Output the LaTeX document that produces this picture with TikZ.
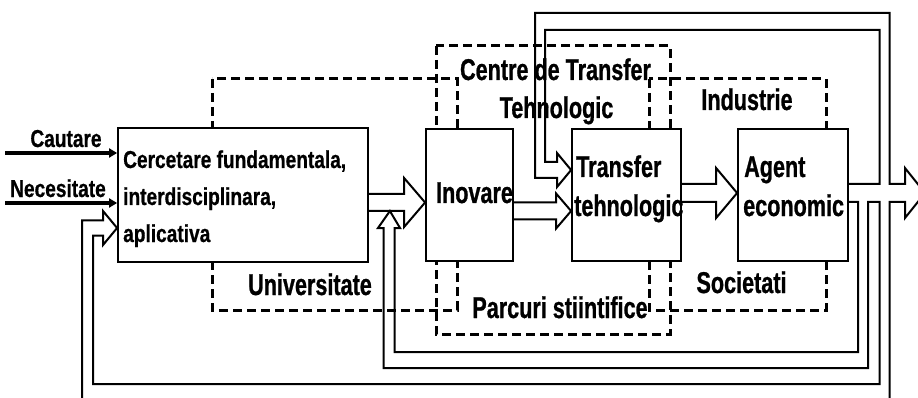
\documentclass[tikz,border=0pt]{standalone}
\usepackage{fontspec}
\setmainfont{Liberation Sans}
\newfontfamily\bigf{Liberation Sans}[FakeStretch=0.72, BoldFeatures={FakeBold=0.8}]
\newfontfamily\smf{Liberation Sans}[FakeStretch=0.78, BoldFeatures={FakeBold=0.6}]
\usetikzlibrary{calc,arrows.meta}
\tikzset{
  bigtxt/.style={font=\bigf\bfseries\fontsize{30}{31}\selectfont, inner sep=0pt},
  smtxt/.style={font=\smf\bfseries\fontsize{24.5}{25}\selectfont, inner sep=0pt},
  solidbox/.style={draw, line width=1.8pt, fill=white, inner sep=0pt},
  dsh/.style={line width=3pt, dash pattern=on 9pt off 5pt},
  pipe/.style={line width=2pt, line join=miter},
  inarr/.style={line width=3.5pt, -{Triangle[length=8pt,width=9pt]}}
}
\newcommand\hpipe[5]{%
  \draw[pipe] ($(#1 |- #2)+(0,-#3)$) -- ($(#2)+(-#5,-#3)$) -- ($(#2)+(-#5,-#4)$)
    -- (#2) -- ($(#2)+(-#5,#4)$) -- ($(#2)+(-#5,#3)$) -- ($(#1 |- #2)+(0,#3)$);}
\begin{document}
\begin{tikzpicture}[x=1pt,y=-1pt]
\useasboundingbox (0,0) rectangle (918,398);
\fill[white] (0,0) rectangle (918,398);
\clip (0,0) rectangle (918,398);

% dashed regions
\draw[dsh] (212,79) rectangle (457,310);
\draw[dsh] (649,79) rectangle (826,310);
\draw[dsh] (436,46) rectangle (670,334);

% region labels
\node[bigtxt, anchor=base] (lct) at (555.5,80) {Centre de Transfer};
\node[bigtxt, anchor=base] (lteh) at (556.5,118) {Tehnologic};
\node[bigtxt, anchor=base] (luni) at (310,295) {Universitate};
\node[bigtxt, anchor=base] (lind) at (747,110) {Industrie};
\node[bigtxt, anchor=base] (lsoc) at (741.5,293) {Societati};
\node[bigtxt, anchor=base] (lpar) at (560,318) {Parcuri stiintifice};

% solid boxes
\node[solidbox, minimum width=250pt, minimum height=134pt] (box1) at (243,195) {};
\node[solidbox, minimum width=87pt, minimum height=132pt] (inov) at (469.5,195) {};
\node[solidbox, minimum width=109pt, minimum height=132pt] (trans) at (626.5,195) {};
\node[solidbox, minimum width=110pt, minimum height=132pt] (agent) at (793,195) {};

% box texts
\node[smtxt, anchor=base west] (c1) at (123,168) {Cercetare fundamentala,};
\node[smtxt, anchor=base west] (c2) at (123,205) {interdisciplinara,};
\node[smtxt, anchor=base west] (c3) at (123,242) {aplicativa};
\node[bigtxt, anchor=base] (tinov) at (474.5,203) {Inovare};
\node[bigtxt, anchor=base west] (ttr1) at (576,177) {Transfer};
\node[bigtxt, anchor=base west] (ttr2) at (574,216) {tehnologic};
\node[bigtxt, anchor=base west] (tag1) at (744,177) {Agent};
\node[bigtxt, anchor=base west] (tag2) at (743,216) {economic};

% inputs
\node[smtxt, anchor=base] (lcau) at (66,147) {Cautare};
\node[smtxt, anchor=base] (lnec) at (58,197) {Necesitate};
\coordinate (cin) at (5,153);
\coordinate (nin) at (5,203);
\draw[inarr] (cin) -- (cin -| box1.west);
\draw[inarr] (nin) -- (nin -| box1.west);

% pipe arrows between boxes
\coordinate (tD) at ($(inov.west)+(0,7.5)$);
\coordinate (tB) at ($(trans.west)+(0,16)$);
\coordinate (tE) at ($(agent.west)+(0,-2)$);
\hpipe{box1.east}{tD}{8.5}{24.5}{21}
\hpipe{inov.east}{tB}{8.5}{17.5}{15}
\hpipe{trans.east}{tE}{9}{25}{21}

% feedback network from agent
\coordinate (tA) at ($(trans.west)+(0,-25)$);
\coordinate (tC) at ($(box1.west)+(0,33)$);
\coordinate (tU) at ($(box1.east)+(21,16)$);
\coordinate (tO) at (925,193);
\draw[pipe] ($(agent.east)+(0,-11)$) -- (879.5,184) -- (879.5,30) -- (545,30)
  -- (545,162) -- (557,162) -- (557,153) -- (tA) -- (557,187) -- (557,178)
  -- (535,178) -- (535,13) -- (889.5,13) -- (889.5,184) -- (905,184)
  -- (905,168) -- (tO) -- (905,218) -- (905,202) -- (889.5,202)
  -- (889.5,410) -- (82,410) -- (82,220.5) -- (103,220.5) -- (103,211)
  -- (tC) -- (103,245) -- (103,235.5) -- (93,235.5) -- (93,384)
  -- (879.5,384) -- (879.5,202) -- (868,202) -- (868,368) -- (383.5,368)
  -- (383.5,228) -- (378,228) -- (tU) -- (400,228) -- (394.5,228)
  -- (394.5,352) -- (858,352) -- (858,202) -- ($(agent.east)+(0,7)$);
\end{tikzpicture}
\end{document}
